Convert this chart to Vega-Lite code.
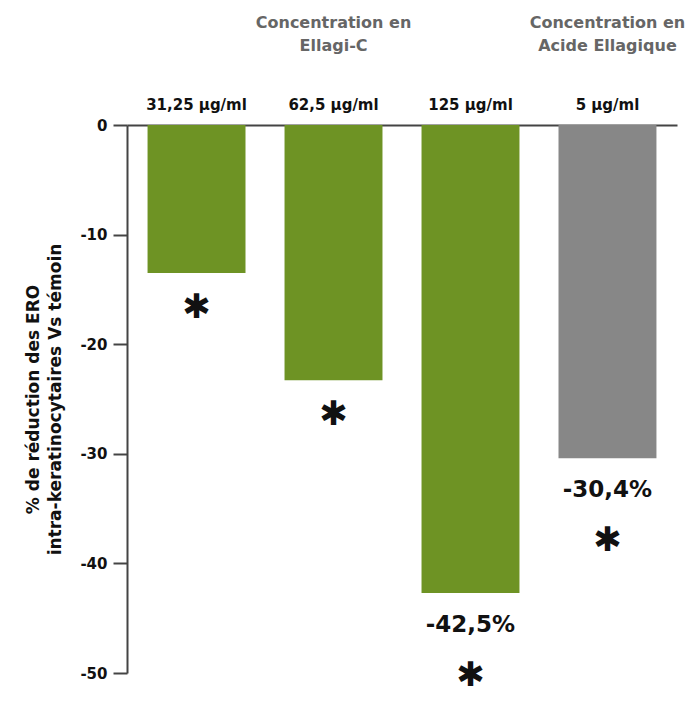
{
  "$schema": "https://vega.github.io/schema/vega-lite/v6.json",
  "width": 550,
  "height": 548,
  "autosize": "none",
  "padding": {"left": 127, "top": 125, "right": 10, "bottom": 36},
  "background": "white",
  "config": {"view": {"stroke": null}, "font": "DejaVu Sans"},
  "datasets": {
    "bars": [
      {"dose": "31,25 µg/ml", "value": -13.5, "group": "Ellagi-C", "label": ""},
      {"dose": "62,5 µg/ml", "value": -23.3, "group": "Ellagi-C", "label": ""},
      {"dose": "125 µg/ml", "value": -42.7, "group": "Ellagi-C", "label": "-42,5%"},
      {"dose": "5 µg/ml", "value": -30.4, "group": "Acide Ellagique", "label": "-30,4%"}
    ],
    "headers": [
      {"dose": "62,5 µg/ml", "header": "Concentration en\nEllagi-C"},
      {"dose": "5 µg/ml", "header": "Concentration en\nAcide Ellagique"}
    ]
  },
  "encoding": {
    "x": {
      "field": "dose", "type": "nominal", "sort": null,
      "scale": {"domain": ["31,25 µg/ml", "62,5 µg/ml", "125 µg/ml", "5 µg/ml"], "paddingInner": 0.285, "paddingOuter": 0.15},
      "axis": {"orient": "top", "title": null, "ticks": false, "labelAngle": 0, "labelPadding": 13, "labelFontSize": 15, "labelFontWeight": "bold", "labelColor": "#111", "domainColor": "#444", "domainWidth": 2}
    }
  },
  "layer": [
    {
      "data": {"name": "bars"},
      "mark": {"type": "bar"},
      "encoding": {
        "y": {
          "field": "value", "type": "quantitative",
          "scale": {"domain": [-50, 0], "nice": false},
          "axis": {
            "values": [0, -10, -20, -30, -40, -50],
            "labelExpr": "'' + datum.value",
            "grid": false, "tickSize": 14, "tickWidth": 2, "tickColor": "#444", "domainColor": "#444", "domainWidth": 2,
            "labelFontSize": 15, "labelFontWeight": "bold", "labelColor": "#111", "labelPadding": 6,
            "title": ["% de réduction des ERO", "intra-keratinocytaires Vs témoin"],
            "titleFontSize": 17, "titleFontWeight": "bold", "titleColor": "#111", "titlePadding": 15, "titleLineHeight": 22
          }
        },
        "color": {
          "field": "group", "type": "nominal", "legend": null,
          "scale": {"domain": ["Ellagi-C", "Acide Ellagique"], "range": ["#6e9324", "#878787"]}
        }
      }
    },
    {
      "data": {"name": "bars"},
      "transform": [{"filter": "datum.label != ''"}],
      "mark": {"type": "text", "dy": 32, "baseline": "middle", "fontSize": 23, "fontWeight": "bold", "color": "#111"},
      "encoding": {
        "y": {"field": "value", "type": "quantitative"},
        "text": {"field": "label"}
      }
    },
    {
      "data": {"name": "bars"},
      "transform": [{"filter": "datum.label != ''"}],
      "mark": {"type": "text", "dy": 83, "baseline": "middle", "fontSize": 34, "fontWeight": "bold", "color": "#111"},
      "encoding": {
        "y": {"field": "value", "type": "quantitative"},
        "text": {"value": "✱"}
      }
    },
    {
      "data": {"name": "bars"},
      "transform": [{"filter": "datum.label == ''"}],
      "mark": {"type": "text", "dy": 35, "baseline": "middle", "fontSize": 34, "fontWeight": "bold", "color": "#111"},
      "encoding": {
        "y": {"field": "value", "type": "quantitative"},
        "text": {"value": "✱"}
      }
    },
    {
      "data": {"name": "headers"},
      "mark": {"type": "text", "dy": -102, "baseline": "middle", "lineBreak": "\n", "lineHeight": 23, "fontSize": 16, "fontWeight": "bold", "color": "#666666"},
      "encoding": {
        "y": {"datum": 0, "type": "quantitative"},
        "text": {"field": "header"}
      }
    }
  ]
}
